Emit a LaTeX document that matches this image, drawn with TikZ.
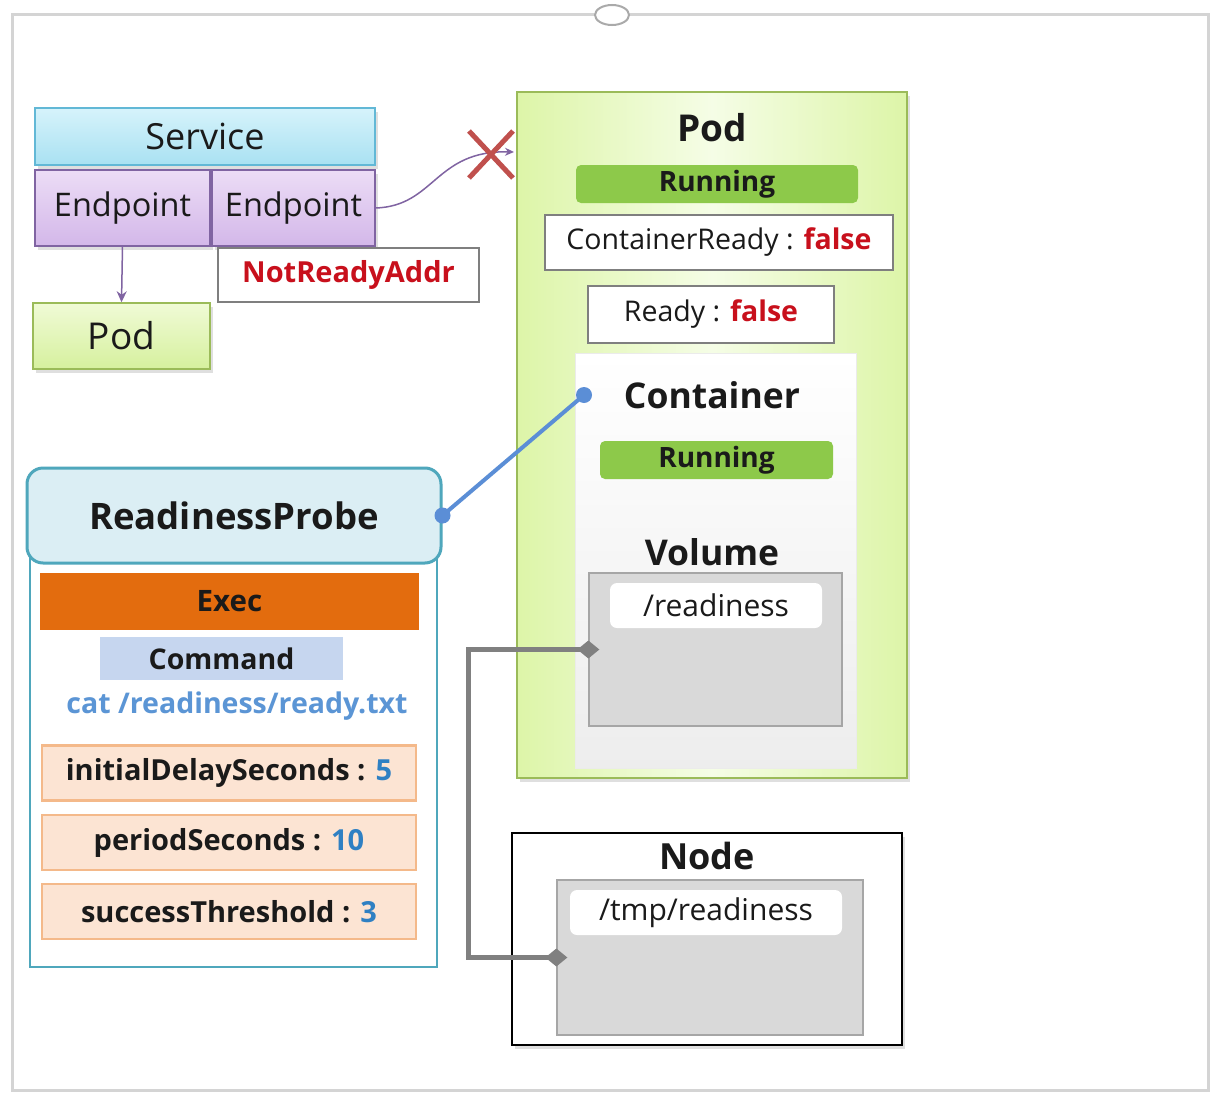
\documentclass[tikz,border=0pt]{standalone}
\usepackage{fontspec}
\setmainfont{Open Sans}
\usetikzlibrary{arrows.meta,shadows}
\definecolor{frame}{HTML}{D4D4D4}
\definecolor{svcA}{HTML}{D6F3FB}
\definecolor{svcB}{HTML}{A9E1F2}
\definecolor{svcL}{HTML}{62B8D6}
\definecolor{epA}{HTML}{ECDDF6}
\definecolor{epB}{HTML}{D3B7E9}
\definecolor{epL}{HTML}{8064A2}
\definecolor{podA}{HTML}{F0FBD6}
\definecolor{podB}{HTML}{D6F09E}
\definecolor{podL}{HTML}{9BBB59}
\definecolor{bigA}{HTML}{F5FDE6}
\definecolor{bigB}{HTML}{DDF5A8}
\definecolor{run}{HTML}{8DC94A}
\definecolor{redt}{HTML}{C8101C}
\definecolor{boxL}{HTML}{7F7F7F}
\definecolor{volF}{HTML}{D9D9D9}
\definecolor{volL}{HTML}{A6A6A6}
\definecolor{teal}{HTML}{4FA7BC}
\definecolor{rphead}{HTML}{DBEEF4}
\definecolor{execF}{HTML}{E36C0E}
\definecolor{cmdF}{HTML}{C6D6EF}
\definecolor{catc}{HTML}{5B95D5}
\definecolor{parF}{HTML}{FCE4D3}
\definecolor{parL}{HTML}{F4B98A}
\definecolor{valc}{HTML}{2F80C3}
\definecolor{bluec}{HTML}{5B8ED6}
\definecolor{xred}{HTML}{C0504D}
\definecolor{txt}{HTML}{1A1A1A}
\tikzset{
  shd/.style={drop shadow={opacity=0.25,shadow xshift=3pt,shadow yshift=-4pt}},
  bx/.style={draw,inner sep=0pt,text=txt},
  svc/.style={bx,draw=svcL,line width=1.5pt,top color=svcA,bottom color=svcB,shd,font=\fontsize{36}{38}\selectfont},
  ep/.style={bx,draw=epL,line width=1.5pt,top color=epA,bottom color=epB,shd,font=\fontsize{32.5}{34}\selectfont},
  spod/.style={bx,draw=podL,line width=1.5pt,top color=podA,bottom color=podB,shd,font=\fontsize{37}{39}\selectfont},
  wbox/.style={bx,draw=boxL,fill=white,line width=1.3pt},
  runbar/.style={bx,draw=none,fill=run,rounded corners=5pt,font=\fontsize{28}{30}\selectfont\bfseries},
  ttl/.style={text=txt,font=\fontsize{35.5}{38}\selectfont\bfseries,inner sep=0pt},
  volbox/.style={bx,draw=volL,fill=volF,line width=1.3pt},
  lbl/.style={bx,draw=none,fill=white,rounded corners=7pt,font=\fontsize{30}{32}\selectfont},
  par/.style={bx,draw=parL,fill=parF,line width=2.2pt,minimum width=374,minimum height=55,font=\fontsize{29}{31}\selectfont\bfseries},
  val/.style={text=valc},
  dotc/.style={circle,fill=bluec,inner sep=0pt,minimum size=16}
}
\begin{document}
\begin{tikzpicture}[x=1pt,y=-1pt]
\useasboundingbox (0,0) rectangle (1218,1100);
\fill[white] (0,0) rectangle (1218,1100);
% outer frame
\draw[frame,line width=3pt] (12,14) rectangle (1208,1090);
\draw[frame!80!black,line width=2pt,fill=white] (612,15) ellipse [x radius=17,y radius=10];

% Service / endpoints
\node[svc,minimum width=340,minimum height=57] (svc) at (205,136.5) {Service};
\node[ep,minimum width=175,minimum height=76] (ep1) at (122.5,208) {Endpoint};
\node[ep,minimum width=163,minimum height=76] (ep2) at (293.5,208) {Endpoint};
\node[wbox,minimum width=261,minimum height=54,text=redt,font=\fontsize{29}{31}\selectfont\bfseries] (nra) at (348.5,275) {NotReadyAddr};
\node[spod,minimum width=177,minimum height=66] (spod) at (121.5,336) {Pod};
\draw[epL,line width=1.5pt,-{Stealth[length=11pt,width=10pt]}] (ep1.south) -- (spod.north);

% big Pod
\node[bx,draw=podL,line width=1.5pt,left color=bigB,right color=bigB,middle color=bigA,shd,minimum width=390,minimum height=686] (bpod) at (712,435) {};
\node[ttl,font=\fontsize{37}{40}\selectfont\bfseries] (podt) at (712,128) {Pod};
\node[runbar,minimum width=282,minimum height=38] (run1) at (717,184) {Running};
\node[wbox,minimum width=348,minimum height=55,font=\fontsize{28.5}{30}\selectfont] (cr) at (719,242.5) {ContainerReady : {\bfseries\color{redt}false}};
\node[wbox,minimum width=246,minimum height=57,font=\fontsize{28.5}{30}\selectfont] (rd) at (711,314.5) {Ready : {\bfseries\color{redt}false}};
\node[bx,draw=black!8,line width=1pt,top color=white,bottom color=black!7,minimum width=281,minimum height=415] (cont) at (715.5,560.5) {};
\node[ttl] (contt) at (712,395) {Container};
\node[runbar,minimum width=233,minimum height=38] (run2) at (716.5,460) {Running};
\node[ttl] (volt) at (712,552) {Volume};
\node[volbox,minimum width=253,minimum height=153] (vol) at (715.5,649.5) {};
\node[lbl,minimum width=212,minimum height=45] (rdl) at (716,605.5) {/readiness};

% connection to pod (broken)
\coordinate (podhit) at (514,152);
\draw[epL,line width=1.5pt,-{Stealth[length=9pt,width=8pt]}] (ep2.east) .. controls (435,206) and (435,150) .. (podhit);
\draw[xred,line width=5pt] (469,131) -- (513,178) (469,178) -- (513,131);

% Node
\node[bx,draw=black,line width=2.2pt,fill=white,shd,minimum width=390,minimum height=212] (nodeb) at (707,939) {};
\node[ttl,font=\fontsize{36}{38}\selectfont\bfseries] (nodet) at (707,856) {Node};
\node[volbox,minimum width=306,minimum height=155] (ngray) at (710,957.5) {};
\node[lbl,minimum width=272,minimum height=45] (tmpl) at (706,912.5) {/tmp/readiness};

% gray hostPath connector
\coordinate (gturn) at (468,800);
\draw[black!50,line width=5pt,shorten <=-11pt,shorten >=-11pt,{Diamond[length=22pt,width=18pt]}-{Diamond[length=22pt,width=18pt]}] (vol.west) -| (gturn) |- (ngray.west);

% ReadinessProbe
\node[bx,draw=teal,line width=2.5pt,fill=white,minimum width=407,minimum height=427] (rpo) at (233.5,753.5) {};
\node[bx,draw=teal,line width=3pt,fill=rphead,rounded corners=16pt,minimum width=414,minimum height=95,font=\fontsize{36.5}{38}\selectfont\bfseries] (rp) at (234,515.5) {ReadinessProbe};
\node[bx,draw=none,fill=execF,minimum width=379,minimum height=57,font=\fontsize{29.5}{31}\selectfont\bfseries] (exec) at (229.5,601.5) {Exec};
\node[bx,draw=none,fill=cmdF,minimum width=243,minimum height=43,font=\fontsize{28.5}{30}\selectfont\bfseries] (cmd) at (221.5,658.5) {Command};
\node[inner sep=0pt,text=catc,font=\fontsize{28.5}{30}\selectfont\bfseries] (cat) at (237,706) {cat /readiness/ready.txt};
\node[par] (p1) at (229,773) {initialDelaySeconds : {\color{valc}5}};
\node[par] (p2) at (229,842.5) {periodSeconds : {\color{valc}10}};
\node[par] (p3) at (229,911.5) {successThreshold : {\color{valc}3}};

% blue link probe -> container
\coordinate (cdot) at (584,395);
\draw[bluec,line width=4pt] (rp.east) -- (cdot);
\node[dotc] (d1) at (rp.east) {};
\node[dotc] (d2) at (cdot) {};
\end{tikzpicture}
\end{document}
